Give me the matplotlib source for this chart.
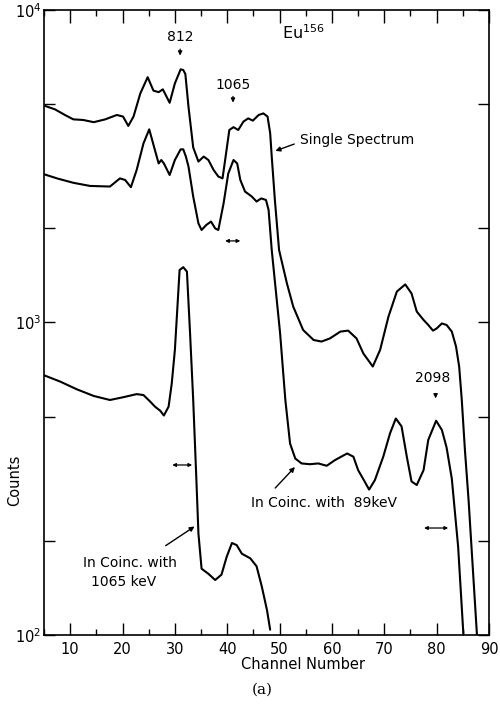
import math
import matplotlib
matplotlib.use('Agg')
import matplotlib.pyplot as plt
from matplotlib.ticker import LogLocator, NullFormatter, FixedLocator, FuncFormatter

# channel / counts
single_ch = [5.2, 7.1, 9.0, 10.6, 12.5, 14.5, 16.7, 18.9, 20.1, 21.1, 22.1, 23.4, 24.8, 25.9, 26.9,
             27.7, 29.0, 30.0, 31.1, 31.6, 32.0, 32.6, 33.5, 34.5, 35.5, 36.4, 37.4, 38.3, 39.1,
             39.6, 40.4, 41.2, 42.1, 43.1, 44.0, 44.9, 46.0, 46.9, 47.7, 48.2, 48.5, 49.1, 49.9,
             51.4, 52.6, 54.5, 56.5, 58.0, 59.6, 61.6, 63.1, 64.7, 66.0, 67.8, 69.2, 70.8, 72.4,
             74.0, 75.2, 76.2, 77.5, 78.4, 79.3, 80.0, 81.0, 81.9, 82.9, 83.7, 84.3, 84.8, 85.4,
             86.1, 87.7]
single_counts = [4932, 4808, 4613, 4467, 4446, 4375, 4467, 4613, 4560, 4256, 4560, 5408, 6095, 5521,
                 5458, 5572, 5047, 5821, 6457, 6427, 6237, 4900, 3631, 3273, 3396, 3311, 3076, 2931,
                 2891, 3311, 4130, 4217, 4130, 4395, 4498, 4426, 4613, 4667, 4560, 4036, 3396, 2466,
                 1706, 1334, 1125, 946, 879, 869, 889, 935, 942, 889, 796, 723, 817, 1045, 1256,
                 1324, 1239, 1084, 1019, 982, 942, 957, 993, 982, 935, 838, 723, 565, 391, 270, 100]

coinc89_ch = [4.9, 7.5, 10.6, 13.8, 17.6, 19.5, 20.5, 21.6, 22.7, 24.0, 25.1, 26.0, 26.9, 27.4,
              27.9, 29.0, 30.0, 31.1, 31.6, 32.1, 32.6, 33.5, 34.5, 35.1, 36.0, 36.9, 37.7, 38.3,
              39.3, 40.2, 41.2, 41.9, 42.5, 43.4, 44.7, 45.6, 46.5, 47.4, 47.9, 48.5, 50.1, 51.1,
              52.0, 53.0, 54.2, 55.8, 57.4, 59.0, 60.6, 62.9, 64.1, 65.0, 66.1, 67.1, 68.2, 69.8,
              71.1, 72.2, 73.3, 74.3, 75.2, 76.2, 77.5, 78.4, 79.9, 81.0, 81.9, 82.9, 84.1, 85.1]
coinc89_counts = [2985, 2891, 2799, 2735, 2723, 2891, 2858, 2710, 3076, 3741, 4150, 3656, 3228, 3311,
                  3228, 2965, 3311, 3581, 3581, 3396, 3155, 2529, 2075, 1977, 2051, 2104, 2000, 1977,
                  2404, 2999, 3311, 3228, 2858, 2624, 2529, 2438, 2495, 2466, 2291, 1706, 923, 565,
                  410, 367, 354, 352, 354, 348, 363, 381, 372, 337, 313, 292, 313, 372, 442, 493,
                  465, 372, 310, 302, 337, 421, 485, 453, 398, 316, 192, 101]

coinc1065_ch = [4.9, 8.1, 11.3, 14.5, 17.6, 20.2, 22.7, 24.0, 25.3, 26.2, 27.2, 27.9, 28.8, 29.4,
                30.0, 30.9, 31.6, 32.3, 32.9, 33.5, 34.1, 34.5, 35.1, 36.4, 37.7, 38.9, 39.9, 40.9,
                41.8, 42.8, 44.4, 45.6, 46.6, 47.6, 48.2]
coinc1065_counts = [679, 647, 611, 582, 565, 577, 590, 586, 558, 538, 522, 504, 538, 638, 817, 1472,
                    1503, 1455, 923, 565, 316, 211, 163, 157, 150, 156, 178, 197, 194, 182, 176, 166,
                    143, 120, 104]

x_ticks = [10, 20, 30, 40, 50, 60, 70, 80, 90]

plt.rcParams['font.family'] = ['DejaVu Sans']

fig = plt.figure(figsize=(5, 7.07), dpi=100)
ax = fig.add_axes([0.088, 0.1018, 0.89, 0.8841])

for ch, cnt in [(single_ch, single_counts), (coinc89_ch, coinc89_counts),
                (coinc1065_ch, coinc1065_counts)]:
    ax.plot(ch, cnt, color='black', lw=1.5, solid_joinstyle='round', solid_capstyle='round')

ax.set_yscale('log')
ax.set_xlim(5, 90)
ax.set_ylim(100, 10000)

ax.xaxis.set_major_locator(FixedLocator(x_ticks))
ax.xaxis.set_minor_locator(FixedLocator([5, 15, 25, 35, 45, 55, 65, 75, 85]))
ax.yaxis.set_major_locator(LogLocator(base=10, numticks=5))
ax.yaxis.set_minor_locator(LogLocator(base=10, subs=(2, 5), numticks=10))
ax.yaxis.set_minor_formatter(NullFormatter())
ax.yaxis.set_major_formatter(FuncFormatter(lambda v, p: r'$10^{%d}$' % round(math.log10(v))))

ax.tick_params(which='both', direction='in', top=True, right=True, labelsize=10.5, width=1.0)
ax.tick_params(axis='x', which='major', length=9, pad=5)
ax.tick_params(axis='x', which='minor', length=4.5)
ax.tick_params(axis='y', which='both', length=8, pad=2)
for s in ax.spines.values():
    s.set_linewidth(1.2)

ax.set_xlabel('Channel Number', fontsize=10.5)
ax.xaxis.set_label_coords(0.582, -0.035)
ax.set_ylabel('Counts', fontsize=10.5)
ax.yaxis.set_label_coords(-0.05, 0.248)

arrow_kw = dict(arrowstyle='-|>', color='black', lw=0.9, mutation_scale=6)

# peak labels
ax.text(31.0, 8200, '812', ha='center', va='center', fontsize=10)
ax.annotate('', xy=(31.0, 7000), xytext=(31.0, 7650), arrowprops=arrow_kw)
ax.text(41.1, 5750, '1065', ha='center', va='center', fontsize=10)
ax.annotate('', xy=(41.1, 4950), xytext=(41.1, 5400), arrowprops=arrow_kw)
ax.text(79.3, 664, '2098', ha='center', va='center', fontsize=10)
ax.annotate('', xy=(79.8, 560), xytext=(79.8, 605), arrowprops=arrow_kw)
ax.text(54.5, 8440, r'Eu$^{156}$', ha='center', va='center', fontsize=11.5)

# curve labels
ax.text(53.9, 3837, 'Single Spectrum', ha='left', va='center', fontsize=10)
ax.annotate('', xy=(48.7, 3516), xytext=(53.3, 3750),
            arrowprops=dict(arrowstyle='-|>', color='black', lw=1.0, mutation_scale=7))
ax.text(44.6, 264, 'In Coinc. with  89keV', ha='left', va='center', fontsize=10)
ax.annotate('', xy=(53.3, 350), xytext=(48.8, 291),
            arrowprops=dict(arrowstyle='-|>', color='black', lw=1.0, mutation_scale=7))
ax.text(12.5, 170, 'In Coinc. with', ha='left', va='center', fontsize=10)
ax.text(14.0, 148, '1065 keV', ha='left', va='center', fontsize=10)
ax.annotate('', xy=(34.2, 225), xytext=(27.8, 191),
            arrowprops=dict(arrowstyle='-|>', color='black', lw=1.0, mutation_scale=7))

# energy-resolution double arrows
for x0, x1, yv in [(39.6, 42.5, 1824), (29.5, 33.3, 350), (77.6, 82.2, 220)]:
    ax.annotate('', xy=(x0, yv), xytext=(x1, yv),
                arrowprops=dict(arrowstyle='<|-|>', color='black', lw=0.9, mutation_scale=5,
                                shrinkA=0, shrinkB=0))

fig.text(0.524, 0.024, '(a)', ha='center', va='center', fontsize=11, family='DejaVu Serif')

fig.savefig('out.png', dpi=100)
